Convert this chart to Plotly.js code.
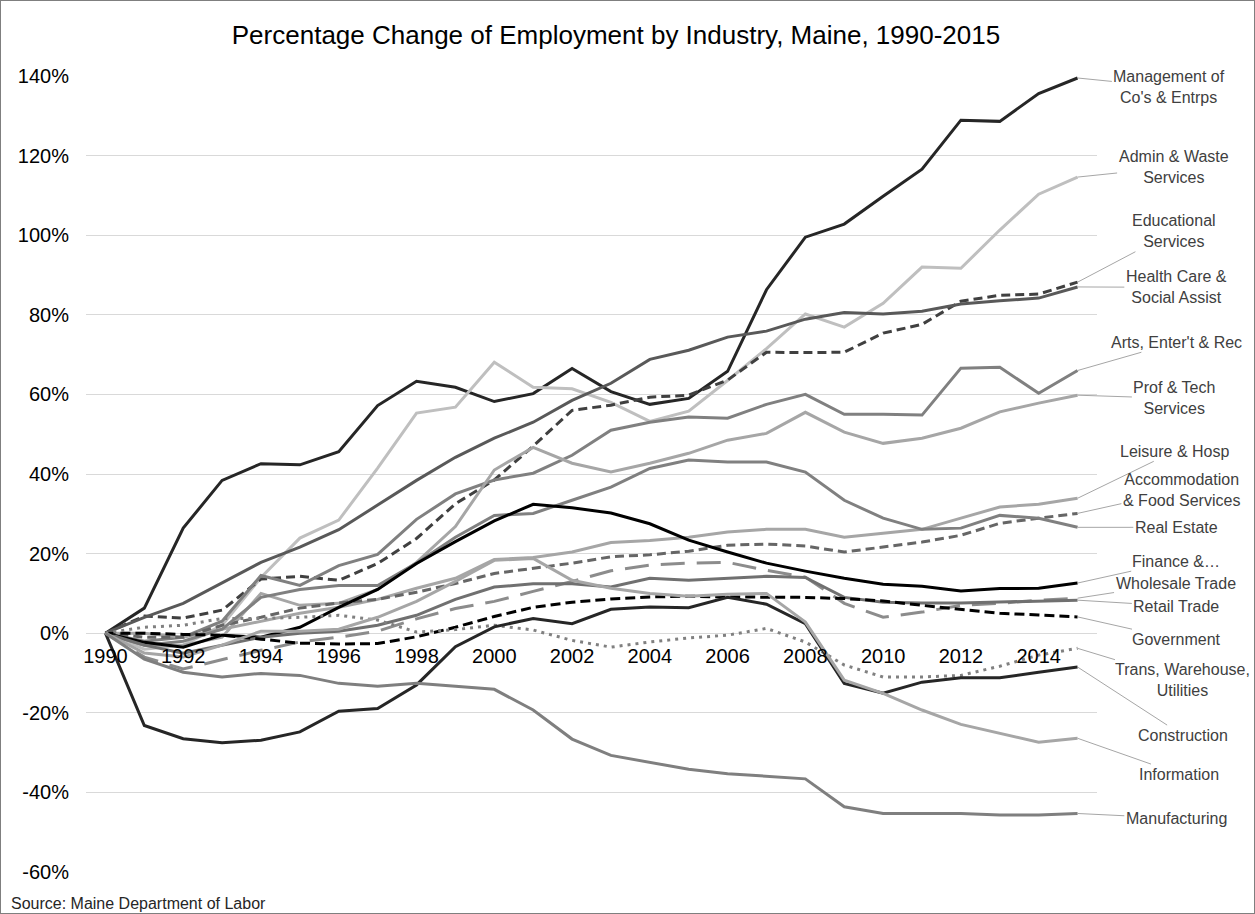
<!DOCTYPE html>
<html>
<head>
<meta charset="utf-8">
<script src="https://cdn.plot.ly/plotly-3.0.1.min.js"></script>
<style>
  html, body { margin: 0; padding: 0; background: #fff; }
  #wrap { position: relative; width: 1255px; height: 914px; }
  #chart { width: 1255px; height: 914px; }
  #frame { position: absolute; left: 0; top: 0; width: 1253px; height: 912px; border: 1px solid #7f7f7f; pointer-events: none; }
</style>
</head>
<body>
<div id="wrap"><div id="chart"></div><div id="frame"></div></div>
<script>
const years = [1990,1991,1992,1993,1994,1995,1996,1997,1998,1999,2000,2001,2002,2003,2004,2005,2006,2007,2008,2009,2010,2011,2012,2013,2014,2015];
const tickYears = [1990,1992,1994,1996,1998,2000,2002,2004,2006,2008,2010,2012,2014];

const management    = [0, 6.3, 26.4, 38.4, 42.6, 42.3, 45.6, 57.2, 63.3, 61.8, 58.2, 60.2, 66.5, 60.7, 57.5, 59.0, 65.8, 86.3, 99.5, 102.8, 109.8, 116.6, 128.9, 128.6, 135.6, 139.5];
const admin         = [0, -4, -3, 2, 14, 23.9, 28.4, 41.5, 55.3, 56.8, 68.1, 61.8, 61.4, 58, 53.2, 55.8, 63.5, 71.5, 80.2, 76.9, 82.9, 92.0, 91.7, 101.3, 110.3, 114.6];
const educational   = [0, 4.3, 3.8, 5.8, 13.6, 14.3, 13.3, 17.5, 23.8, 32.5, 38.5, 47, 56, 57.3, 59.3, 59.8, 63.6, 70.6, 70.5, 70.6, 75.4, 77.6, 83.4, 84.9, 85.2, 88.2];
const healthCare    = [0, 4, 7.5, 12.7, 17.8, 21.6, 26, 32.2, 38.4, 44.2, 49, 53, 58.5, 62.8, 68.8, 71.1, 74.4, 75.9, 78.9, 80.6, 80.2, 80.9, 82.7, 83.5, 84.2, 87];
const arts          = [0, -2, -1, 3, 14.5, 12, 17, 19.8, 28.6, 35, 38.5, 40.2, 44.7, 51, 53, 54.3, 54, 57.5, 60, 55, 55, 54.8, 66.6, 66.8, 60.3, 66];
const profTech      = [0, -3, -3, -1, 10, 7, 7.5, 11, 17.8, 26.8, 41, 46.7, 42.7, 40.5, 42.7, 45.2, 48.5, 50.2, 55.5, 50.5, 47.7, 49, 51.5, 55.6, 57.8, 59.8];
const leisure       = [0, 0, -1, 1, 3, 5, 6.5, 8.5, 11.3, 13.8, 18.5, 19, 20.4, 22.8, 23.3, 24.1, 25.4, 26.1, 26.1, 24.1, 25.1, 26.1, 28.9, 31.7, 32.4, 33.9];
const accommodation = [0, -1, -1, 2, 4, 6.3, 7.6, 8.5, 10.3, 12.5, 15, 16.3, 17.6, 19.2, 19.7, 20.6, 22.1, 22.4, 21.9, 20.4, 21.6, 22.9, 24.6, 27.6, 28.9, 30.1];
const realEstate    = [0, -3, -2, 1, 9, 11, 12, 12, 17.6, 24.1, 29.6, 30.1, 33.4, 36.7, 41.4, 43.5, 43, 43, 40.5, 33.4, 28.9, 26.1, 26.4, 29.6, 28.9, 26.6];
const finance       = [0, -2.3, -3.5, -0.5, -1, 1.5, 6.5, 11, 17.5, 23, 28.2, 32.4, 31.5, 30.2, 27.5, 23.4, 20.4, 17.6, 15.6, 13.8, 12.3, 11.8, 10.6, 11.2, 11.3, 12.6];
const wholesale     = [0, -6, -9, -6.6, -4.3, -2.2, -1, 0.5, 3.6, 6.2, 8, 10.5, 13, 15.7, 17.1, 17.6, 17.8, 15.8, 14.1, 7.5, 4, 5.3, 7, 7.5, 8.3, 8.8];
const retail        = [0, -3, -5, -3, -1, 0, 0.5, 2, 4.5, 8.5, 11.6, 12.4, 12.4, 11.6, 13.8, 13.3, 13.8, 14.3, 14, 9, 7.8, 7.6, 7.6, 7.8, 8.1, 8.3];
const government    = [0, 0, -0.3, -0.5, -1.5, -2.5, -2.7, -2.6, -0.9, 1.5, 4.2, 6.5, 7.8, 8.6, 9.1, 9.3, 9.1, 9.0, 9.0, 8.7, 8.1, 7.0, 6.0, 5.0, 4.6, 4.1];
const trans         = [0, 1.5, 2, 3.7, 3.7, 4, 4.5, 3.3, 0.3, 0.9, 2, 0.8, -1.8, -3.5, -2.2, -1.2, -0.5, 1.2, -2.2, -8, -11, -11, -10.6, -8.3, -5.5, -3.8];
const construction  = [0, -23.2, -26.5, -27.5, -26.9, -24.8, -19.6, -18.9, -13, -3.4, 1.6, 3.7, 2.4, 6, 6.6, 6.4, 9, 7.3, 2.4, -12.6, -15.1, -12.3, -11.2, -11.2, -9.8, -8.5];
const information   = [0, -5, -6, -3, 0.5, 0.5, 1, 4, 8, 13, 18.3, 18.8, 13.3, 11.3, 10, 9.3, 9.8, 10, 2.8, -11.8, -15.1, -19.3, -22.9, -25.1, -27.4, -26.4];
const manufacturing = [0, -6.5, -9.8, -11, -10.1, -10.6, -12.6, -13.3, -12.6, -13.3, -14.1, -19.3, -26.6, -30.7, -32.4, -34.2, -35.3, -36, -36.6, -43.6, -45.3, -45.3, -45.3, -45.7, -45.7, -45.3];

const seriesNames = ["Management of<br>Co's & Entrps", "Admin & Waste<br>Services", "Educational<br>Services", "Health Care &<br>Social Assist", "Arts, Enter't & Rec", "Prof & Tech<br>Services", "Leisure & Hosp", "Accommodation<br>& Food Services", "Real Estate", "Finance &…", "Wholesale Trade", "Retail Trade", "Government", "Trans, Warehouse,<br>Utilities", "Construction", "Information", "Manufacturing"];
const seriesValues = [management, admin, educational, healthCare, arts, profTech, leisure, accommodation, realEstate, finance, wholesale, retail, government, trans, construction, information, manufacturing];

// styles (kept apart from the data)
const seriesColors = ['#262626', '#bfbfbf', '#404040', '#595959', '#808080', '#a6a6a6', '#a6a6a6', '#666666', '#808080', '#000000', '#8c8c8c', '#707070', '#000000', '#808080', '#262626', '#a6a6a6', '#7f7f7f'];
const seriesDash   = ['solid', 'solid', '9px,5px', 'solid', 'solid', 'solid', 'solid', '9px,5px', 'solid', 'solid', '24px,12px', 'solid', '10px,5px', '3px,5px', 'solid', 'solid', 'solid'];
// label positions (data units of the axes)
const labelX = [2017.36, 2017.47, 2017.49, 2017.54, 2017.54, 2017.49, 2017.49, 2017.67, 2017.54, 2017.54, 2017.52, 2017.54, 2017.54, 2017.70, 2017.70, 2017.62, 2017.54];
const labelY = [137.2, 117.1, 101.0, 86.9, 73.1, 59.0, 45.7, 35.9, 26.6, 18.1, 12.6, 6.8, -1.5, -11.8, -25.6, -35.4, -46.5];

const FONT = 'Liberation Sans, Arial, sans-serif';

const traces = seriesValues.map((vals, i) => ({
  type: 'scatter',
  mode: 'lines',
  x: years,
  y: vals,
  name: seriesNames[i].replace('<br>', ' '),
  line: { color: seriesColors[i], width: 3, dash: seriesDash[i] },
  hoverinfo: 'skip'
}));

const annotations = seriesValues.map((vals, i) => ({
  x: years[years.length - 1],
  y: vals[vals.length - 1],
  xref: 'x', yref: 'y',
  ax: labelX[i], ay: labelY[i],
  axref: 'x', ayref: 'y',
  text: seriesNames[i],
  showarrow: true,
  arrowhead: 0,
  arrowwidth: 1,
  arrowcolor: '#a6a6a6',
  standoff: 0,
  align: 'center',
  font: { family: FONT, size: 16, color: '#404040' }
}));

annotations.push({
  xref: 'paper', yref: 'paper',
  x: -0.0766, y: -0.0402,
  xanchor: 'left', yanchor: 'middle',
  text: 'Source: Maine Department of Labor',
  showarrow: false,
  font: { family: FONT, size: 16, color: '#262626' }
});

const layout = {
  width: 1255,
  height: 914,
  autosize: false,
  paper_bgcolor: '#ffffff',
  plot_bgcolor: '#ffffff',
  margin: { l: 86, r: 158, t: 76, b: 42, pad: 0 },
  showlegend: false,
  hovermode: false,
  title: {
    text: 'Percentage Change of Employment by Industry, Maine, 1990-2015',
    font: { family: FONT, size: 26, color: '#000000' },
    x: 616 / 1255, xanchor: 'center', xref: 'container',
    y: 1 - 35 / 914, yanchor: 'middle', yref: 'container'
  },
  xaxis: {
    range: [1989.5, 2015.5],
    tickmode: 'array',
    tickvals: tickYears,
    ticktext: tickYears.map(String),
    showgrid: false,
    zeroline: false,
    showline: false,
    anchor: 'free',
    position: 0.3,
    ticks: 'outside',
    ticklen: 5,
    tickcolor: 'rgba(0,0,0,0)',
    tickfont: { family: FONT, size: 20, color: '#000000' }
  },
  yaxis: {
    range: [-60, 140],
    tickmode: 'array',
    tickvals: [-60, -40, -20, 0, 20, 40, 60, 80, 100, 120, 140],
    ticktext: ['-60%', '-40%', '-20%', '0%', '20%', '40%', '60%', '80%', '100%', '120%', '140%'],
    showgrid: true,
    gridcolor: '#d9d9d9',
    gridwidth: 1,
    zeroline: false,
    showline: false,
    ticks: '',
    ticklabelstandoff: 16,
    tickfont: { family: FONT, size: 20, color: '#000000' }
  },
  annotations: annotations
};

Plotly.newPlot('chart', traces, layout, { staticPlot: true, displayModeBar: false });
</script>
</body>
</html>
